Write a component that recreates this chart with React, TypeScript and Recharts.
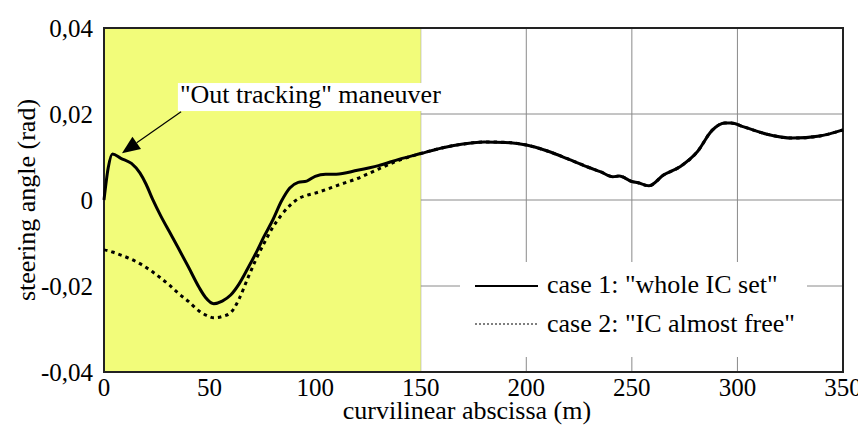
import React from 'react';
import { LineChart, Line, XAxis, YAxis, CartesianGrid, ReferenceArea, ReferenceLine, ReferenceDot, Legend } from 'recharts';

// curvilinear abscissa (m)
const abscissa = [
    0, 2, 4, 8, 13, 17, 20, 23, 27, 31, 35, 40, 45, 48, 52, 56, 60, 64, 68, 72, 76, 80, 84, 88, 92, 96, 100, 105, 110,
    120, 130, 140, 150, 160, 170, 180, 190, 200, 210, 220, 230, 235, 241, 244, 250, 253, 258, 265, 273, 281, 288, 294,
    297, 303, 314, 326, 339, 350,
];

// steering angle (rad), case 1: whole IC set
const case1 = [
    0, 0.0075, 0.0107, 0.0097, 0.0085, 0.0063, 0.0036, 0.0002, -0.0038, -0.0074, -0.011, -0.0156, -0.0203, -0.0226,
    -0.0241, -0.0235, -0.0221, -0.0195, -0.016, -0.0123, -0.0083, -0.0046, -0.0003, 0.0028, 0.0041, 0.0044, 0.0055,
    0.006, 0.006, 0.0069, 0.008, 0.0095, 0.0108, 0.0121, 0.013, 0.0135, 0.0134, 0.0128, 0.0114, 0.0095, 0.0075, 0.0066,
    0.0054, 0.0056, 0.0043, 0.004, 0.0033, 0.0058, 0.0078, 0.0112, 0.0162, 0.0179, 0.0179, 0.017, 0.0153, 0.0144, 0.0149,
    0.0163,
];

// steering angle (rad), case 2: IC almost free
const case2 = [
    -0.0116, -0.0118, -0.0121, -0.0128, -0.0138, -0.0148, -0.0157, -0.0167, -0.0182, -0.0198, -0.0216, -0.0236, -0.0258,
    -0.0267, -0.0274, -0.0271, -0.0262, -0.023, -0.0183, -0.0138, -0.0099, -0.0063, -0.0035, -0.0013, 0.0003, 0.0011,
    0.0016, 0.0024, 0.0033, 0.005, 0.0072, 0.0093, 0.0108, 0.0121, 0.013, 0.0135, 0.0134, 0.0128, 0.0114, 0.0095, 0.0075,
    0.0066, 0.0054, 0.0056, 0.0043, 0.004, 0.0033, 0.0058, 0.0078, 0.0112, 0.0162, 0.0179, 0.0179, 0.017, 0.0153, 0.0144,
    0.0149, 0.0163,
];

const xTicks = [0, 50, 100, 150, 200, 250, 300, 350];
const yTicks = [-0.04, -0.02, 0, 0.02, 0.04];
const yTickLabels = ['-0,04', '-0,02', '0', '0,02', '0,04'];
const seriesNames = ['case 1: "whole IC set"', 'case 2: "IC almost free"'];
const annotationText = '"Out tracking" maneuver';
const highlightRange = [0, 150];

const data = abscissa.map((s, i) => ({ s, case1: case1[i], case2: case2[i] }));

const FONT = '"Liberation Serif", "Times New Roman", Times, serif';
const textStyle = { fontFamily: FONT };

const Arrow = (props: any) => {
    const { x1, y1, x2, y2 } = props;
    const a = Math.atan2(y2 - y1, x2 - x1);
    const len = 18;
    const half = 7.5;
    const bx = x2 - len * Math.cos(a);
    const by = y2 - len * Math.sin(a);
    const p1 = `${bx + half * Math.sin(a)},${by - half * Math.cos(a)}`;
    const p2 = `${bx - half * Math.sin(a)},${by + half * Math.cos(a)}`;
    return (
        <g>
            <line x1={x1} y1={y1} x2={bx} y2={by} stroke="#000" strokeWidth={1.2} />
            <polygon points={`${x2},${y2} ${p1} ${p2}`} fill="#000" />
        </g>
    );
};

const Annotation = (props: any) => {
    const { cx, cy } = props;
    return (
        <g>
            <rect x={cx} y={cy} width={262} height={28} fill="#fff" />
            <text x={cx + 2} y={cy + 20} style={textStyle} fontSize={26} fill="#000">
                {annotationText}
            </text>
        </g>
    );
};

const renderLegend = () => (
    <div style={{ background: '#fff', width: 347, height: 95 }}>
        <svg width={347} height={95}>
            <line x1={15} y1={24} x2={78} y2={24} stroke="#000" strokeWidth={2} />
            <text x={87} y={31} style={textStyle} fontSize={26} fill="#000">
                {seriesNames[0]}
            </text>
            <line x1={15} y1={62} x2={78} y2={62} stroke="#000" strokeWidth={1.2} strokeDasharray="2 2" />
            <text x={87} y={70} style={textStyle} fontSize={26} fill="#000">
                {seriesNames[1]}
            </text>
        </svg>
    </div>
);

export default function App() {
    return (
        <div style={{ fontFamily: FONT }}>
            <LineChart width={858} height={418} data={data} margin={{ top: 20, right: 23, left: 0, bottom: 0 }} style={textStyle}>
                <ReferenceArea
                    x1={highlightRange[0]}
                    x2={highlightRange[1]}
                    y1={-0.04}
                    y2={0.04}
                    fill="#f2fc7a"
                    fillOpacity={1}
                    stroke="none"
                />
                <CartesianGrid stroke="#8a8a8a" strokeWidth={1} />
                <XAxis
                    dataKey="s"
                    type="number"
                    domain={[0, 350]}
                    ticks={xTicks}
                    height={54}
                    axisLine={false}
                    tickLine={false}
                    tickMargin={0}
                    tick={{ fill: '#000', fontSize: 25, style: textStyle }}
                    label={{
                        content: () => (
                            <text x={459} y={411} textAnchor="middle" style={textStyle} fontSize={26} fill="#000">
                                curvilinear abscissa (m)
                            </text>
                        ),
                    }}
                />
                <YAxis
                    type="number"
                    domain={[-0.04, 0.04]}
                    ticks={yTicks}
                    width={96}
                    axisLine={false}
                    tickLine={false}
                    tickMargin={5}
                    tickFormatter={(v: number) => yTickLabels[yTicks.findIndex((t) => Math.abs(t - v) < 1e-9)] ?? String(v)}
                    tick={{ fill: '#000', fontSize: 25, style: textStyle }}
                    label={{
                        content: () => (
                            <text
                                x={27}
                                y={192}
                                transform="rotate(-90 27 192)"
                                textAnchor="middle"
                                style={textStyle}
                                fontSize={26}
                                fill="#000"
                            >
                                steering angle (rad)
                            </text>
                        ),
                    }}
                />
                <Line
                    type="monotone"
                    dataKey="case2"
                    stroke="#000"
                    strokeWidth={3}
                    strokeDasharray="3.5 4"
                    dot={false}
                    isAnimationActive={false}
                />
                <Line type="monotone" dataKey="case1" stroke="#000" strokeWidth={3} dot={false} isAnimationActive={false} />
                <ReferenceDot x={35} y={0.0272} r={0} shape={Annotation} />
                <ReferenceLine
                    segment={[
                        { x: 36.5, y: 0.0205 },
                        { x: 8.5, y: 0.0109 },
                    ]}
                    shape={Arrow}
                />
                <ReferenceArea x1={0} x2={350} y1={-0.04} y2={0.04} fill="none" stroke="#222" strokeWidth={2} />
                <Legend
                    layout="horizontal"
                    verticalAlign="middle"
                    align="center"
                    content={renderLegend}
                    wrapperStyle={{ left: 452, top: 254, width: 347, height: 95 }}
                />
            </LineChart>
        </div>
    );
}
